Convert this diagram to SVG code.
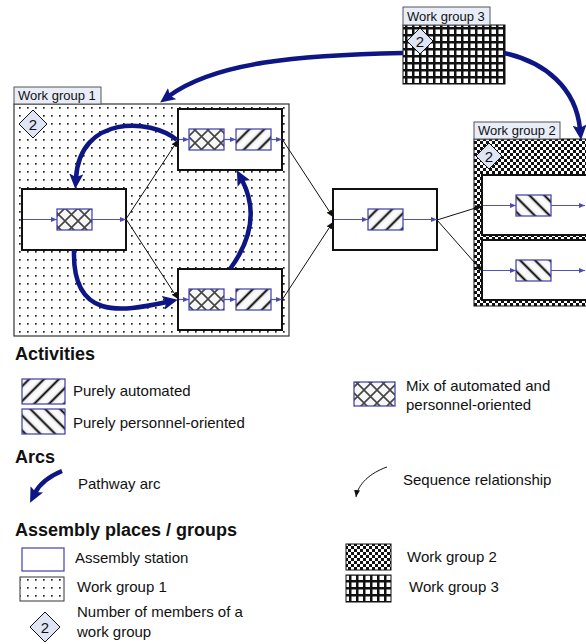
<svg xmlns="http://www.w3.org/2000/svg" width="586" height="644" viewBox="0 0 586 644">
<style>
text{font-family:"Liberation Sans",Arial,sans-serif;fill:#111}
.tab{fill:#e8edf8;stroke:#555;stroke-width:1}
.tabt{font-size:13px}
.st{fill:#fff;stroke:#111;stroke-width:2}
.act{stroke:#3c3ca8;stroke-width:1.2}
.auto{fill:url(#pAuto)}
.pers{fill:url(#pPers)}
.mix{fill:url(#pMix)}
.bl{stroke:#5252b4;stroke-width:1.2;fill:none;marker-end:url(#mBl)}
.seq{stroke:#111;stroke-width:1;fill:none;marker-end:url(#mSq)}
.pw{stroke:#0d1684;stroke-width:4.5;fill:none;marker-end:url(#mPw)}
.dia{fill:#dfe5f5;stroke:#111;stroke-width:1}
.num{font-size:15px;text-anchor:middle}
.h{font-size:18px;font-weight:bold}
.lg{font-size:15px}
</style>
<defs>
<linearGradient id="gStripe" x1="0" y1="0" x2="1" y2="0">
<stop offset="0" stop-color="#fff"/>
<stop offset="0.32" stop-color="#f0f0f0"/>
<stop offset="0.5" stop-color="#000"/>
<stop offset="0.68" stop-color="#f0f0f0"/>
<stop offset="1" stop-color="#fff"/>
</linearGradient>
<pattern id="pAuto" patternUnits="userSpaceOnUse" width="10.5" height="10.5" patternTransform="rotate(45)">
<rect width="10.5" height="10.5" fill="url(#gStripe)"/>
</pattern>
<pattern id="pPers" patternUnits="userSpaceOnUse" width="10.5" height="10.5" patternTransform="rotate(-45)">
<rect width="10.5" height="10.5" fill="url(#gStripe)"/>
</pattern>
<pattern id="pMix" patternUnits="userSpaceOnUse" width="13" height="13">
<rect width="13" height="13" fill="#f6f6f6"/>
<path d="M0,0 L13,13 M13,0 L0,13" stroke="#444" stroke-width="1.6"/>
</pattern>
<pattern id="pDots" patternUnits="userSpaceOnUse" width="8" height="8">
<rect width="8" height="8" fill="#fff"/>
<rect x="3" y="3" width="1.7" height="1.7" fill="#222"/>
</pattern>
<pattern id="pChk" patternUnits="userSpaceOnUse" width="6" height="6">
<rect width="6" height="6" fill="#111"/>
<rect x="0" y="0" width="3" height="3" fill="#fff"/>
<rect x="3" y="3" width="3" height="3" fill="#fff"/>
</pattern>
<pattern id="pGrid" patternUnits="userSpaceOnUse" width="7" height="7">
<rect width="7" height="7" fill="#111"/>
<rect x="1.5" y="1.5" width="4.5" height="4.5" fill="#fff"/>
</pattern>
<marker id="mPw" markerUnits="userSpaceOnUse" markerWidth="18" markerHeight="16" refX="4" refY="7" orient="auto">
<path d="M0,0 L15,7 L0,14 L3,7 z" fill="#0d1684"/>
</marker>
<marker id="mSq" markerUnits="userSpaceOnUse" markerWidth="9" markerHeight="8" refX="7" refY="3" orient="auto">
<path d="M0,0 L7,3 L0,6 z" fill="#111"/>
</marker>
<marker id="mBl" markerUnits="userSpaceOnUse" markerWidth="8" markerHeight="6" refX="6" refY="2.5" orient="auto">
<path d="M0,0 L6,2.5 L0,5 z" fill="#4a4ab0"/>
</marker>
</defs>
<rect width="586" height="644" fill="#fff"/>

<!-- Work group 1 -->
<g id="wg1">
<rect x="14" y="104" width="275" height="232" fill="url(#pDots)" stroke="#333" stroke-width="1.2"/>
<rect class="tab" x="14" y="87" width="87" height="17"/>
<text class="tabt" x="18" y="100">Work group 1</text>
<path class="dia" d="M33,110 L47,124 L33,138 L19,124 z"/>
<text class="num" x="33" y="129.5">2</text>
</g>

<!-- Work group 3 -->
<g id="wg3">
<rect x="403" y="25" width="102" height="59" fill="url(#pGrid)" stroke="#111" stroke-width="1"/>
<rect class="tab" x="403" y="7" width="87" height="18"/>
<text class="tabt" x="407" y="21">Work group 3</text>
<path class="dia" d="M420,28 L433,41 L420,54 L407,41 z"/>
<text class="num" x="420" y="46.5">2</text>
</g>

<!-- Work group 2 -->
<g id="wg2">
<rect x="474" y="139" width="115" height="167" fill="url(#pChk)" stroke="#111" stroke-width="1"/>
<rect class="tab" x="474" y="122" width="86" height="17"/>
<text class="tabt" x="478" y="135">Work group 2</text>
<path class="dia" d="M489,143 L502,156 L489,169 L476,156 z"/>
<text class="num" x="489" y="161.5">2</text>
</g>

<!-- Stations -->
<g id="s1">
<rect class="st" x="22" y="189" width="104" height="61"/>
<rect class="act mix" x="57" y="209" width="35" height="21"/>
<path class="bl" d="M23,219.5 H57"/>
<path class="bl" d="M92,219.5 H126"/>
</g>
<g id="s2">
<rect class="st" x="178" y="109" width="104" height="61"/>
<rect class="act mix" x="189" y="129" width="35" height="21"/>
<rect class="act auto" x="236" y="129" width="35" height="21"/>
<path class="bl" d="M179,139.5 H189"/>
<path class="bl" d="M224,139.5 H236"/>
<path class="bl" d="M271,139.5 H282"/>
</g>
<g id="s3">
<rect class="st" x="178" y="269" width="104" height="61"/>
<rect class="act mix" x="189" y="289" width="35" height="21"/>
<rect class="act auto" x="236" y="289" width="35" height="21"/>
<path class="bl" d="M179,299.5 H189"/>
<path class="bl" d="M224,299.5 H236"/>
<path class="bl" d="M271,299.5 H282"/>
</g>
<g id="s4">
<rect class="st" x="333" y="189" width="104" height="61"/>
<rect class="act auto" x="368" y="209" width="35" height="21"/>
<path class="bl" d="M334,219.5 H368"/>
<path class="bl" d="M403,219.5 H437"/>
</g>
<g id="s5">
<rect class="st" x="482" y="175" width="110" height="60"/>
<rect class="act pers" x="516" y="195" width="35" height="21"/>
<path class="bl" d="M483,205.5 H516"/>
<path class="bl" d="M551,205.5 H585"/>
</g>
<g id="s6">
<rect class="st" x="482" y="240" width="110" height="60"/>
<rect class="act pers" x="516" y="260" width="35" height="21"/>
<path class="bl" d="M483,270.5 H516"/>
<path class="bl" d="M551,270.5 H585"/>
</g>

<!-- Connectors -->
<g id="connectors">
<path class="seq" d="M126,219 L178,140"/>
<path class="seq" d="M126,219 L178,299"/>
<path class="seq" d="M282,139 L333,217"/>
<path class="seq" d="M282,300 L333,222"/>
<path class="seq" d="M437,220 L482,206"/>
<path class="seq" d="M437,220 L482,271"/>
<path class="pw" d="M403,53 C300,55 215,62 169,96"/>
<path class="pw" d="M504,53 C545,62 576,88 580,129"/>
<path class="pw" d="M177,140 C150,118 80,115 76,178"/>
<path class="pw" d="M74,250 C72,320 120,312 167,302"/>
<path class="pw" d="M230,269 C255,235 255,205 242,180"/>
</g>

<!-- Legend -->
<g id="legend">
<text class="h" x="15" y="360">Activities</text>
<rect class="act auto" x="22" y="379" width="43" height="25"/>
<text class="lg" x="73" y="396">Purely automated</text>
<rect class="act pers" x="22" y="409" width="43" height="25"/>
<text class="lg" x="73" y="428">Purely personnel-oriented</text>
<rect class="act mix" x="354" y="382" width="41" height="24"/>
<text class="lg" x="406" y="391">Mix of automated and</text>
<text class="lg" x="406" y="410">personnel-oriented</text>

<text class="h" x="15" y="463">Arcs</text>
<path class="pw" d="M62,471 C50,476 40,483 35,493"/>
<text class="lg" x="78" y="489">Pathway arc</text>
<path class="seq" d="M387,467 C370,473 358,484 356,497"/>
<text class="lg" x="403" y="485">Sequence relationship</text>

<text class="h" x="15" y="536">Assembly places / groups</text>
<rect x="22" y="548" width="42" height="23" fill="#fff" stroke="#4040b0" stroke-width="1.2"/>
<text class="lg" x="75" y="563">Assembly station</text>
<rect x="20" y="577" width="44" height="24" fill="url(#pDots)" stroke="#333" stroke-width="1"/>
<text class="lg" x="77" y="592">Work group 1</text>
<path class="dia" d="M45,612 L60,627 L45,642 L30,627 z"/>
<text class="num" x="45" y="632.5">2</text>
<text class="lg" x="77" y="617">Number of members of a</text>
<text class="lg" x="77" y="637">work group</text>
<rect x="346" y="544" width="45" height="26" fill="url(#pChk)" stroke="#111" stroke-width="1"/>
<text class="lg" x="407" y="562">Work group 2</text>
<rect x="346" y="575" width="45" height="27" fill="url(#pGrid)" stroke="#111" stroke-width="1"/>
<text class="lg" x="409" y="592">Work group 3</text>
</g>
</svg>
